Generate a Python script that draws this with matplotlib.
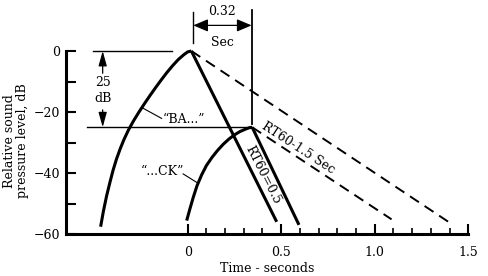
import matplotlib
matplotlib.use("Agg")
import matplotlib.pyplot as plt

# ---- data ----
ba_x = [-0.465, -0.45, -0.433, -0.415, -0.398, -0.38, -0.36, -0.34, -0.317, -0.29, -0.26,
        -0.23, -0.20, -0.17, -0.14, -0.11, -0.08, -0.05, -0.02, 0.0, 0.02]
ba_y = [-57.6, -52.5, -47.5, -43.0, -39.0, -35.4, -32.0, -29.0, -26.0, -23.0, -20.0,
        -17.2, -14.5, -11.9, -9.4, -7.0, -4.8, -2.8, -1.2, -0.3, 0.0]
ck_x = [-0.005, 0.012, 0.03, 0.05, 0.075, 0.10, 0.13, 0.16, 0.19, 0.22, 0.25, 0.28, 0.31, 0.33, 0.345]
ck_y = [-55.6, -51.8, -48.0, -44.2, -40.6, -37.6, -34.9, -32.6, -30.6, -28.9, -27.5, -26.4, -25.6, -25.15, -25.0]
ba_fast_x = [0.02, 0.476]
ba_fast_y = [0.0, -56.0]
ck_fast_x = [0.345, 0.595]
ck_fast_y = [-25.0, -57.0]
ba_slow_x = [0.02, 1.418]
ba_slow_y = [0.0, -57.0]
ck_slow_x = [0.345, 1.09]
ck_slow_y = [-25.0, -55.2]
y_ticks = [0, -20, -40, -60]
y_tick_labels = ["0", "\u221220", "\u221240", "\u221260"]
y_minor = [-10, -30, -50]
x_ticks = [0, 0.5, 1.0, 1.5]
x_tick_labels = ["0", "0.5", "1.0", "1.5"]
x_minor = [0.1, 0.2, 0.3, 0.4, 0.6, 0.7, 0.8, 0.9, 1.1, 1.2, 1.3, 1.4]

plt.rcParams['font.family'] = ['DejaVu Serif']
FS = 9

fig = plt.figure(figsize=(4.88, 2.76), dpi=100)
ax = fig.add_axes([66/488, 42/276, (468.3-66)/488, (234-5.25)/276])
ax.set_xlim(-0.65, 1.5)
ax.set_ylim(-60, 15)

LW = 2.2
for xs, ys in [(ba_x, ba_y), (ck_x, ck_y), (ba_fast_x, ba_fast_y), (ck_fast_x, ck_fast_y)]:
    ax.plot(xs, ys, color='black', lw=LW, solid_capstyle='butt', solid_joinstyle='round', clip_on=False)
for xs, ys in [(ba_slow_x, ba_slow_y), (ck_slow_x, ck_slow_y)]:
    ax.plot(xs, ys, color='black', lw=1.4, dashes=(5.5, 3.5), clip_on=False)

# spines
for s in ['top', 'right']:
    ax.spines[s].set_visible(False)
ax.spines['left'].set_bounds(-60, 0)
ax.spines['bottom'].set_bounds(-0.65, 1.5)
ax.spines['left'].set_linewidth(2.2)
ax.spines['bottom'].set_linewidth(2.2)

ax.set_yticks(y_ticks)
ax.set_yticklabels(y_tick_labels, fontsize=FS)
ax.set_yticks(y_minor, minor=True)
ax.set_xticks(x_ticks)
ax.set_xticklabels(x_tick_labels, fontsize=FS)
ax.set_xticks(x_minor, minor=True)
ax.tick_params(axis='y', which='both', direction='in', length=7, width=1.5, pad=4)
ax.tick_params(axis='x', which='major', direction='in', length=7.5, width=1.5, pad=8.5)
ax.tick_params(axis='x', which='minor', direction='in', length=4, width=1.2)

ax.set_xlabel("Time - seconds", fontsize=FS, labelpad=2)
fig.text(16/488, 1 - 141/276, "Relative sound\npressure level, dB", rotation=90,
         ha='center', va='center', fontsize=FS, multialignment='center', linespacing=1.05)

# reference lines
thin = 1.0
ax.plot([-0.508, -0.085], [0, 0], color='black', lw=thin)
ax.plot([-0.54, 0.333], [-25, -25], color='black', lw=thin)
ax.plot([0.027, 0.027], [2.5, 12.9], color='black', lw=thin, clip_on=False)
ax.plot([0.345, 0.345], [-24.0, 13.4], color='black', lw=1.3, clip_on=False)

# 0.32 sec arrow
ax.annotate("", xy=(0.03, 8.4), xytext=(0.342, 8.4),
            arrowprops=dict(arrowstyle='<|-|>,head_length=0.9,head_width=0.38', color='black', lw=0.9,
                            shrinkA=0, shrinkB=0), annotation_clip=False)
ax.text(0.186, 12.9, "0.32", ha='center', va='center', fontsize=FS)
ax.text(0.186, 2.9, "Sec", ha='center', va='center', fontsize=FS)

# 25 dB arrow
xa = -0.454
ax.annotate("", xy=(xa, 0), xytext=(xa, -7.3),
            arrowprops=dict(arrowstyle='-|>,head_length=0.9,head_width=0.25', color='black', lw=0.9,
                            shrinkA=0, shrinkB=0))
ax.annotate("", xy=(xa, -25), xytext=(xa, -19.3),
            arrowprops=dict(arrowstyle='-|>,head_length=0.9,head_width=0.25', color='black', lw=0.9,
                            shrinkA=0, shrinkB=0))
ax.text(xa, -10.2, "25", ha='center', va='center', fontsize=FS)
ax.text(xa, -15.6, "dB", ha='center', va='center', fontsize=FS)

# labels
ax.plot([-0.237, -0.139], [-18.8, -22.1], color='black', lw=0.8)
ax.text(-0.02, -22.6, "\u201cBA...\u201d", ha='center', va='center', fontsize=FS)
ax.plot([-0.024, 0.057], [-40.3, -43.4], color='black', lw=0.8)
ax.text(-0.135, -39.6, "\u201c...CK\u201d", ha='center', va='center', fontsize=FS)

ax.text(0.404, -40.7, "RT60=0.5", rotation=-63, rotation_mode='anchor',
        ha='center', va='center', fontsize=FS)
ax.text(0.591, -31.9, "RT60-1.5 Sec", rotation=-33, rotation_mode='anchor',
        ha='center', va='center', fontsize=FS)

fig.savefig("out.png", dpi=100)
